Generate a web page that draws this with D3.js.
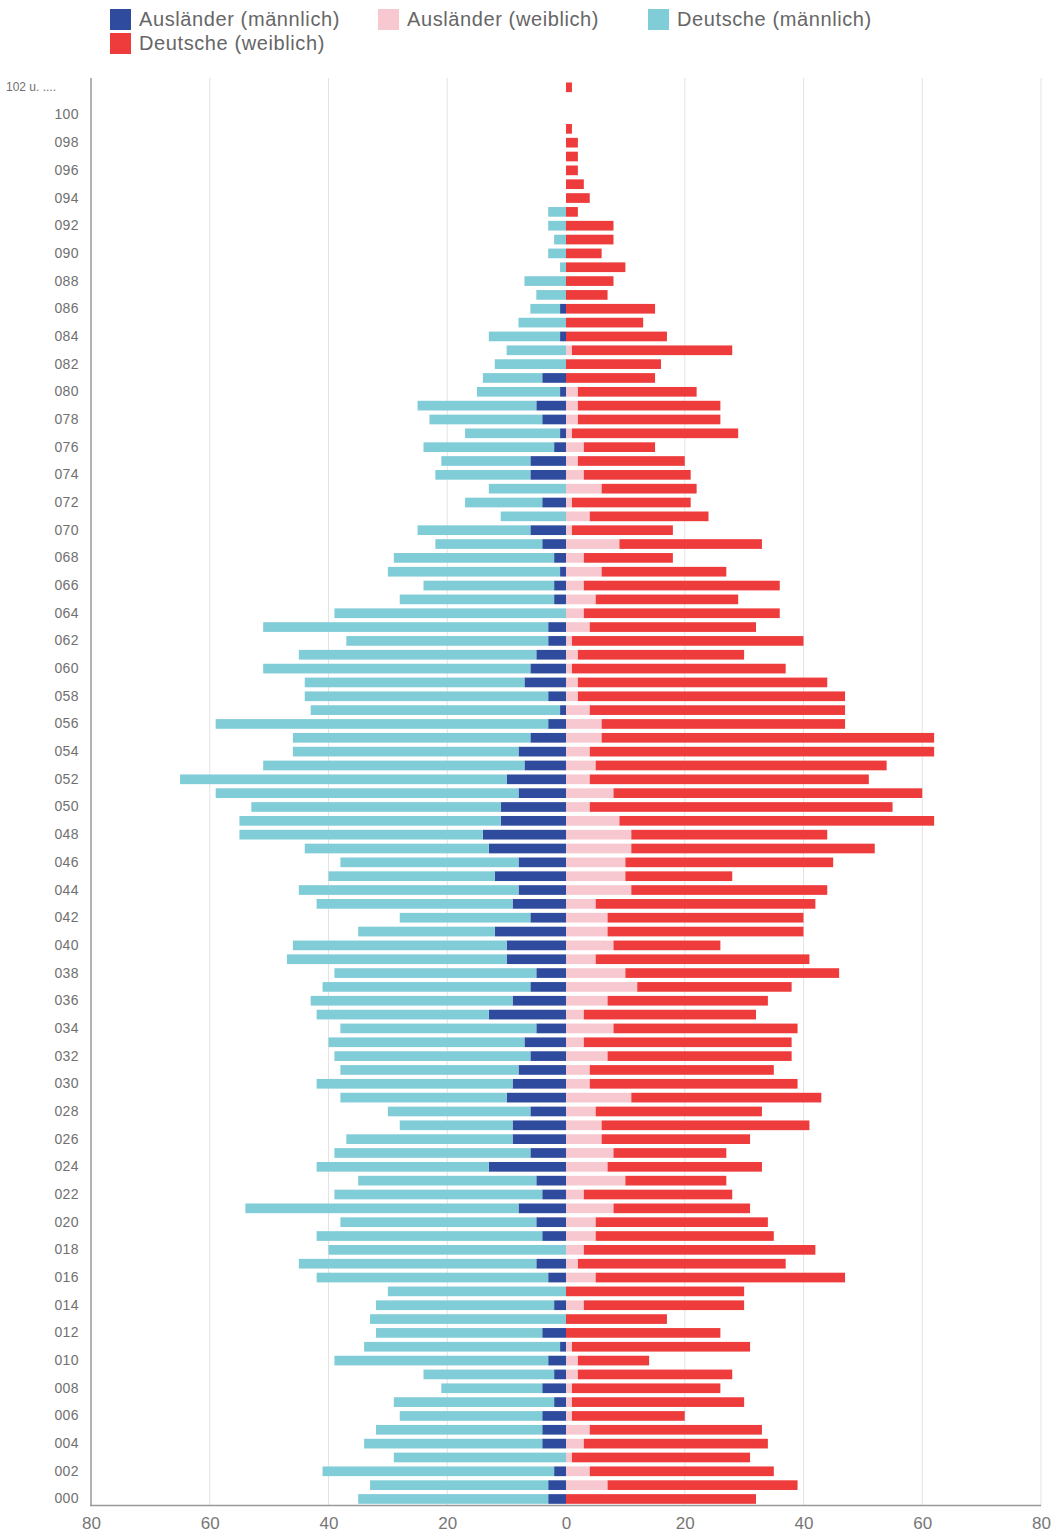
<!DOCTYPE html>
<html><head><meta charset="utf-8">
<script src="https://cdn.jsdelivr.net/npm/d3@7"></script>
<style>
body{margin:0;background:#fff;}
svg text{font-family:"Liberation Sans",Arial,sans-serif;}
</style></head>
<body><svg id="chart" width="1051" height="1540"></svg>
<script>
// ages 0..102
const ages = d3.range(0, 103);
const auslaenderM = [3,3,2,0,4,4,4,2,4,2,3,1,4,0,2,0,3,5,0,4,5,
 8,4,5,13,6,9,9,6,10,9,8,6,7,5,13,9,6,5,10,10,
 12,6,9,8,12,8,13,14,11,11,8,10,7,8,6,3,1,3,7,6,
 5,3,3,0,2,2,1,2,4,6,0,4,0,6,6,2,1,4,5,1,
 4,0,0,1,0,1,0,0,0,0,0,0,0,0,0,0,0,0,0,0,0,0,0];
const deutscheM = [32,30,39,29,30,28,24,27,17,22,36,33,28,33,30,30,39,40,40,38,33,
 46,35,30,29,33,28,19,24,28,33,30,33,33,33,29,34,35,34,37,36,
 23,22,33,37,28,30,31,41,44,42,51,55,44,38,40,56,42,41,37,45,
 40,34,48,39,26,22,29,27,18,19,11,13,13,16,15,22,16,19,20,14,
 10,12,10,12,8,5,5,7,1,3,2,3,3,0,0,0,0,0,0,0,0,0,0];
const auslaenderW = [0,7,4,1,3,4,1,1,1,2,2,1,0,0,3,0,5,2,3,5,5,
 8,3,10,7,8,6,6,5,11,4,4,7,3,8,3,7,12,10,5,8,
 7,7,5,11,10,10,11,11,9,4,8,4,5,4,6,6,4,2,2,1,
 2,1,4,3,5,3,6,3,9,1,4,1,6,3,2,3,1,2,2,2,
 0,0,1,0,0,0,0,0,0,0,0,0,0,0,0,0,0,0,0,0,0,0,0];
const deutscheW = [32,32,31,30,31,29,19,29,25,26,12,30,26,17,27,30,42,35,39,30,29,
 23,25,17,26,19,25,35,28,32,35,31,31,35,31,29,27,26,36,36,18,
 33,33,37,33,18,35,41,33,53,51,52,47,49,58,56,41,43,45,42,36,
 28,39,28,33,24,33,21,15,24,17,20,20,16,18,18,12,28,24,24,20,
 15,16,27,17,13,15,7,8,10,6,8,8,2,4,3,2,2,2,1,0,0,1];
const seriesNames = ["Ausländer (männlich)","Ausländer (weiblich)","Deutsche (männlich)","Deutsche (weiblich)"];
const seriesColors = ["#2f4b9e","#f8c8d0","#80ccd7","#ee3c3c"];
const xTicks = [-80,-60,-40,-20,0,20,40,60,80];
const yTickAges = d3.range(0, 103, 2);

const rows = ages.map(a => ({age:a, am:auslaenderM[a], dm:deutscheM[a], aw:auslaenderW[a], dw:deutscheW[a]}));

const svg = d3.select("#chart");
const x = d3.scaleLinear().domain([-80,80]).range([91,1041]);
const y = d3.scaleBand().domain(ages.slice().reverse()).range([80.4,1505.9]).paddingInner(0.3).paddingOuter(0.15);

// grid
svg.append("g").selectAll("line").data(xTicks.filter(t=>t!==0 && t!==-80)).join("line")
  .attr("x1",d=>x(d)).attr("x2",d=>x(d)).attr("y1",78).attr("y2",1506)
  .attr("stroke","#e3e3e3").attr("stroke-width",1);

// stacks
const leftStack = d3.stack().keys(["am","dm"])(rows);
const rightStack = d3.stack().keys(["aw","dw"])(rows);
const leftColors = [seriesColors[0], seriesColors[2]];
const rightColors = [seriesColors[1], seriesColors[3]];

leftStack.forEach((layer,i)=>{
  svg.append("g").attr("fill",leftColors[i]).selectAll("rect").data(layer).join("rect")
    .attr("x",d=>x(-d[1])).attr("width",d=>x(-d[0])-x(-d[1]))
    .attr("y",d=>y(d.data.age)).attr("height",y.bandwidth());
});
rightStack.forEach((layer,i)=>{
  svg.append("g").attr("fill",rightColors[i]).selectAll("rect").data(layer).join("rect")
    .attr("x",d=>x(d[0])).attr("width",d=>x(d[1])-x(d[0]))
    .attr("y",d=>y(d.data.age)).attr("height",y.bandwidth());
});

// axes lines
svg.append("line").attr("x1",91).attr("x2",91).attr("y1",78).attr("y2",1506).attr("stroke","#999").attr("stroke-width",1.5);
svg.append("line").attr("x1",90).attr("x2",1041).attr("y1",1505.5).attr("y2",1505.5).attr("stroke","#999").attr("stroke-width",1.5);

// x axis labels
const xAxis = d3.axisBottom(x).tickValues(xTicks).tickFormat(d=>Math.abs(d)).tickSize(0).tickPadding(12);
const gx = svg.append("g").attr("transform","translate(0,1505)").call(xAxis);
gx.select(".domain").remove();
gx.selectAll("text").attr("font-size",17).attr("fill","#777").attr("font-family","Liberation Sans, Arial, sans-serif");

// y axis labels
const yAxis = d3.axisLeft(y).tickValues(yTickAges).tickSize(0).tickPadding(0)
  .tickFormat(d=> d===102 ? "102 u. ...." : d3.format("03d")(d));
const gy = svg.append("g").attr("transform","translate(79,0)").call(yAxis);
gy.select(".domain").remove();
gy.selectAll("text").attr("font-size",14).attr("fill","#707070").attr("letter-spacing",0.4).attr("font-family","Liberation Sans, Arial, sans-serif");
gy.selectAll(".tick").filter(d=>d===102).select("text").attr("font-size",12).attr("letter-spacing",0).attr("x",-23);

// legend
const legendItems = [
  {name:seriesNames[0], color:seriesColors[0], x:110, y:9},
  {name:seriesNames[1], color:seriesColors[1], x:378, y:9},
  {name:seriesNames[2], color:seriesColors[2], x:648, y:9},
  {name:seriesNames[3], color:seriesColors[3], x:110, y:33}
];
const lg = svg.append("g").selectAll("g").data(legendItems).join("g")
  .attr("transform",d=>`translate(${d.x},${d.y})`);
lg.append("rect").attr("width",21).attr("height",21).attr("fill",d=>d.color);
lg.append("text").attr("x",29).attr("y",17).attr("font-size",20).attr("letter-spacing",0.6).attr("fill","#666").text(d=>d.name);
</script></body></html>
